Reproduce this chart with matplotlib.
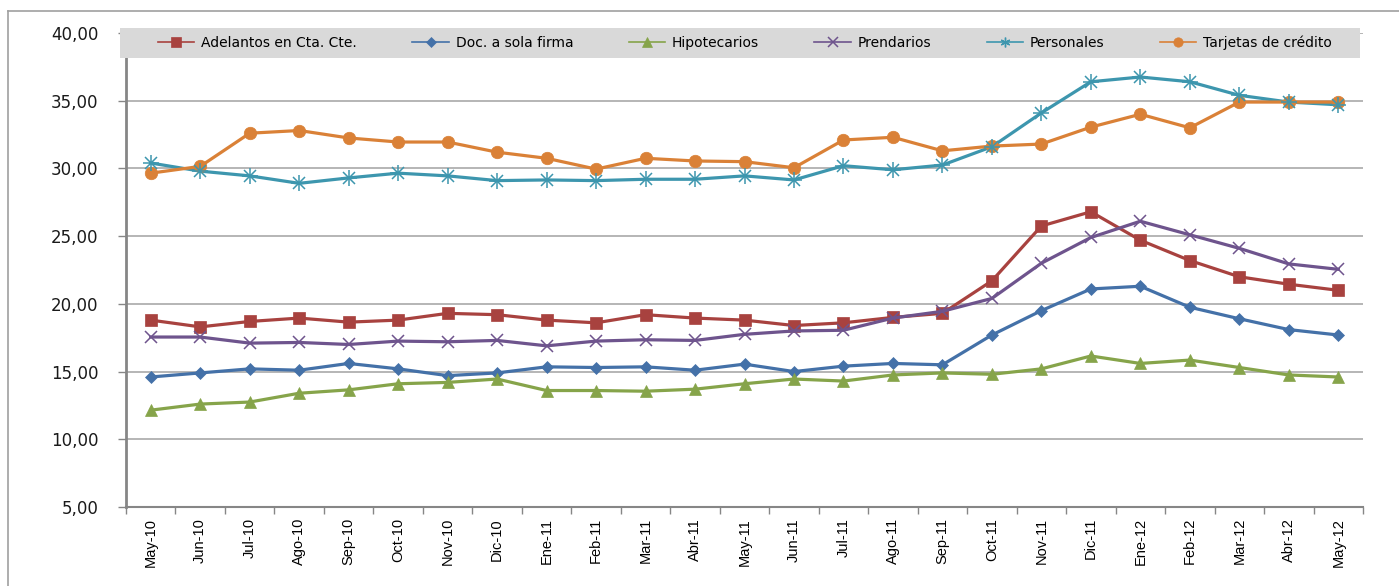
import numpy as np
import matplotlib.pyplot as plt
from matplotlib.lines import Line2D
from matplotlib.patches import Rectangle

meses = ['May-10', 'Jun-10', 'Jul-10', 'Ago-10', 'Sep-10', 'Oct-10', 'Nov-10', 'Dic-10',
         'Ene-11', 'Feb-11', 'Mar-11', 'Abr-11', 'May-11', 'Jun-11', 'Jul-11', 'Ago-11',
         'Sep-11', 'Oct-11', 'Nov-11', 'Dic-11', 'Ene-12', 'Feb-12', 'Mar-12', 'Abr-12', 'May-12']

adelantos = [18.8, 18.3, 18.7, 18.95, 18.65, 18.8, 19.3, 19.2, 18.8, 18.6, 19.2, 18.95, 18.8,
             18.4, 18.6, 19.0, 19.3, 21.7, 25.75, 26.8, 24.7, 23.2, 22.0, 21.45, 21.0]
doc_firma = [14.6, 14.9, 15.2, 15.1, 15.6, 15.2, 14.7, 14.9, 15.35, 15.3, 15.35, 15.1, 15.55,
             15.0, 15.4, 15.6, 15.5, 17.7, 19.5, 21.1, 21.3, 19.75, 18.9, 18.1, 17.7]
hipotecarios = [12.15, 12.6, 12.75, 13.4, 13.65, 14.1, 14.2, 14.45, 13.6, 13.6, 13.55, 13.7, 14.1,
                14.45, 14.3, 14.75, 14.9, 14.8, 15.2, 16.15, 15.6, 15.85, 15.3, 14.75, 14.6]
prendarios = [17.55, 17.55, 17.1, 17.15, 17.0, 17.25, 17.2, 17.3, 16.9, 17.25, 17.35, 17.3, 17.75,
              18.0, 18.05, 18.95, 19.45, 20.4, 23.0, 24.9, 26.1, 25.1, 24.1, 22.95, 22.55]
personales = [30.4, 29.8, 29.45, 28.9, 29.3, 29.65, 29.45, 29.1, 29.15, 29.1, 29.2, 29.2, 29.45,
              29.15, 30.2, 29.9, 30.25, 31.6, 34.1, 36.4, 36.75, 36.4, 35.4, 34.9, 34.7]
tarjetas = [29.65, 30.15, 32.6, 32.8, 32.25, 31.95, 31.95, 31.2, 30.75, 29.95, 30.75, 30.55, 30.5,
            30.05, 32.1, 32.3, 31.3, 31.65, 31.8, 33.05, 34.0, 33.0, 34.9, 34.9, 34.9]

fig = plt.figure(figsize=(13.99, 5.86), dpi=100)
ax = fig.add_axes([126 / 1399, 1 - 507 / 586, (1363 - 126) / 1399, (507 - 33) / 586])

x = np.arange(len(meses))
series = [
    ('Adelantos en Cta. Cte.', adelantos, '#A8423F', 's', 9),
    ('Doc. a sola firma', doc_firma, '#4471A8', 'D', 6.5),
    ('Hipotecarios', hipotecarios, '#86A44A', '^', 9),
    ('Prendarios', prendarios, '#6E548D', 'x', 9),
    ('Personales', personales, '#3D96AE', '*', 0),
    ('Tarjetas de crédito', tarjetas, '#DA8137', 'o', 9),
]
handles = []
for name, vals, col, mk, ms in series:
    if mk == '*':
        ax.plot(x, vals, color=col, lw=2.3, zorder=3)
        ax.plot(x, vals, ls='none', marker='x', ms=9, mew=1.1, color=col, zorder=4)
        ax.plot(x, vals, ls='none', marker='+', ms=11, mew=1.1, color=col, zorder=4)
        h = Line2D([], [], color=col, lw=1.2, marker=(6, 2, 0), ms=7, mew=1.0)
    else:
        mew = 1.1 if mk == 'x' else 0.5
        ax.plot(x, vals, color=col, lw=2.3, marker=mk, ms=ms, mew=mew,
                mec=col, mfc=col, zorder=3)
        h = Line2D([], [], color=col, lw=1.2, marker=mk, ms=ms * 0.75, mew=mew, mfc=col, mec=col)
    handles.append((h, name))

ax.set_xlim(-0.5, len(meses) - 0.5)
ax.set_ylim(5, 40)
ax.set_yticks(np.arange(5, 41, 5))
ax.set_yticklabels([f'{v:.2f}'.replace('.', ',') for v in np.arange(5, 41, 5)],
                   fontsize=12, color='#1a1a1a')
ax.set_xticks(x)
ax.set_xticklabels(meses, rotation=90, fontsize=10.5, family='Liberation Sans')
ax.set_xticks(np.arange(-0.5, len(meses)), minor=True)
ax.tick_params(axis='x', which='major', length=0, pad=8)
ax.tick_params(axis='x', which='minor', length=5, color='#868686', width=1)
ax.tick_params(axis='y', length=6, color='#868686', width=1, pad=14)

ax.grid(axis='y', color='#B0B0B0', lw=1.3, zorder=0)
ax.set_axisbelow(True)
for s in ['top', 'right']:
    ax.spines[s].set_visible(False)
ax.spines['left'].set_color('#868686')
ax.spines['left'].set_linewidth(2)
ax.spines['bottom'].set_color('#868686')
ax.spines['bottom'].set_linewidth(1.5)

# legend band
fig.patches.append(Rectangle((120 / 1399, 1 - 58 / 586), 1240 / 1399, 30 / 586,
                             transform=fig.transFigure, facecolor='#D9D9D9',
                             edgecolor='none', zorder=5))
leg = fig.legend([h for h, _ in handles], [n for _, n in handles], ncol=6,
                 loc='center', bbox_to_anchor=(745 / 1399, 1 - 43 / 586),
                 frameon=False, fontsize=10, handlelength=2.6, columnspacing=4.0,
                 handletextpad=0.5)
leg.set_zorder(6)

# outer chart frame
fig.add_artist(Line2D([8 / 1399, 8 / 1399], [0, 1 - 11 / 586], transform=fig.transFigure,
                      color='#A0A0A0', lw=1.2))
fig.add_artist(Line2D([8 / 1399, 1], [1 - 11 / 586, 1 - 11 / 586], transform=fig.transFigure,
                      color='#A0A0A0', lw=1.2))

fig.savefig('out.png', dpi=100)
